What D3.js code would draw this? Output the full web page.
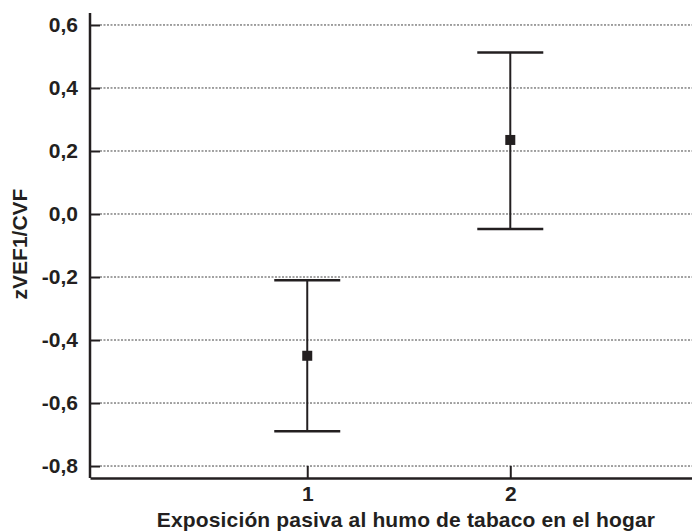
<!DOCTYPE html>
<html>
<head>
<meta charset="utf-8">
<script src="https://cdn.jsdelivr.net/npm/d3@7"></script>
<style>
  body { margin: 0; background: #fff; }
  svg { display: block; }
  text { font-family: "Liberation Sans", Arial, sans-serif; font-weight: bold; fill: #231f20; }
</style>
</head>
<body>
<svg id="chart" width="692" height="532"></svg>
<script>
// Data
const groups = [1, 2];
const means = [-0.45, 0.235];
const upper = [-0.21, 0.513];
const lower = [-0.69, -0.048];
const yTicks = [-0.8, -0.6, -0.4, -0.2, 0.0, 0.2, 0.4, 0.6];
const xTicks = [1, 2];
const yTitle = "zVEF1/CVF";
const xTitle = "Exposición pasiva al humo de tabaco en el hogar";

const svg = d3.select("#chart");
const mLeft = 90, mRight = 692, mTop = 13, mBottom = 478;
const ink = "#231f20";

const x = d3.scaleLinear().domain([-0.07, 2.895]).range([mLeft, mRight]);
const y = d3.scaleLinear().domain([-0.838, 0.638]).range([mBottom, mTop]);

// gridlines
svg.append("g").selectAll("line").data(yTicks).join("line")
  .attr("x1", mLeft + 10).attr("x2", mRight)
  .attr("y1", d => y(d)).attr("y2", d => y(d))
  .attr("stroke", "#444").attr("stroke-width", 1)
  .attr("stroke-dasharray", "2,1.5");

// y axis
const yAxis = svg.append("g").attr("transform", `translate(${mLeft},0)`)
  .call(d3.axisLeft(y).tickValues(yTicks).tickSize(-10).tickSizeOuter(0).tickPadding(12)
    .tickFormat(d => d.toFixed(1).replace(".", ",")));
yAxis.select(".domain").attr("stroke", ink).attr("stroke-width", 2.5)
  .attr("d", `M0,${mTop}V${mBottom}`);
yAxis.selectAll(".tick line").attr("stroke", ink).attr("stroke-width", 2);
yAxis.selectAll("text").style("font-size", "21px").style("font-family", "Liberation Sans, Arial, sans-serif")
  .style("font-weight", "bold").attr("fill", ink);

// x axis
const xAxis = svg.append("g").attr("transform", `translate(0,${mBottom})`)
  .call(d3.axisBottom(x).tickValues(xTicks).tickSize(-12).tickSizeOuter(0).tickPadding(8)
    .tickFormat(d3.format("d")));
xAxis.select(".domain").attr("stroke", ink).attr("stroke-width", 2.5);
xAxis.selectAll(".tick line").attr("stroke", ink).attr("stroke-width", 2);
xAxis.selectAll("text").style("font-size", "21px").style("font-family", "Liberation Sans, Arial, sans-serif")
  .style("font-weight", "bold").attr("fill", ink);

// error bars
const capHalf = 33;
const bars = svg.append("g");
groups.forEach((g, i) => {
  bars.append("line").attr("x1", x(g)).attr("x2", x(g))
    .attr("y1", y(upper[i])).attr("y2", y(lower[i]))
    .attr("stroke", ink).attr("stroke-width", 2);
  [upper[i], lower[i]].forEach(v => {
    bars.append("line").attr("x1", x(g) - capHalf).attr("x2", x(g) + capHalf)
      .attr("y1", y(v)).attr("y2", y(v))
      .attr("stroke", ink).attr("stroke-width", 2.5);
  });
  bars.append("rect").attr("x", x(g) - 5).attr("y", y(means[i]) - 5)
    .attr("width", 10).attr("height", 10).attr("fill", ink);
});

// titles
svg.append("text").attr("transform", `translate(27,244) rotate(-90)`)
  .attr("text-anchor", "middle").style("font-size", "21px").text(yTitle);
svg.append("text").attr("x", 406).attr("y", 527)
  .attr("text-anchor", "middle").style("font-size", "21px").style("letter-spacing", "0.15px").text(xTitle);
</script>
</body>
</html>
